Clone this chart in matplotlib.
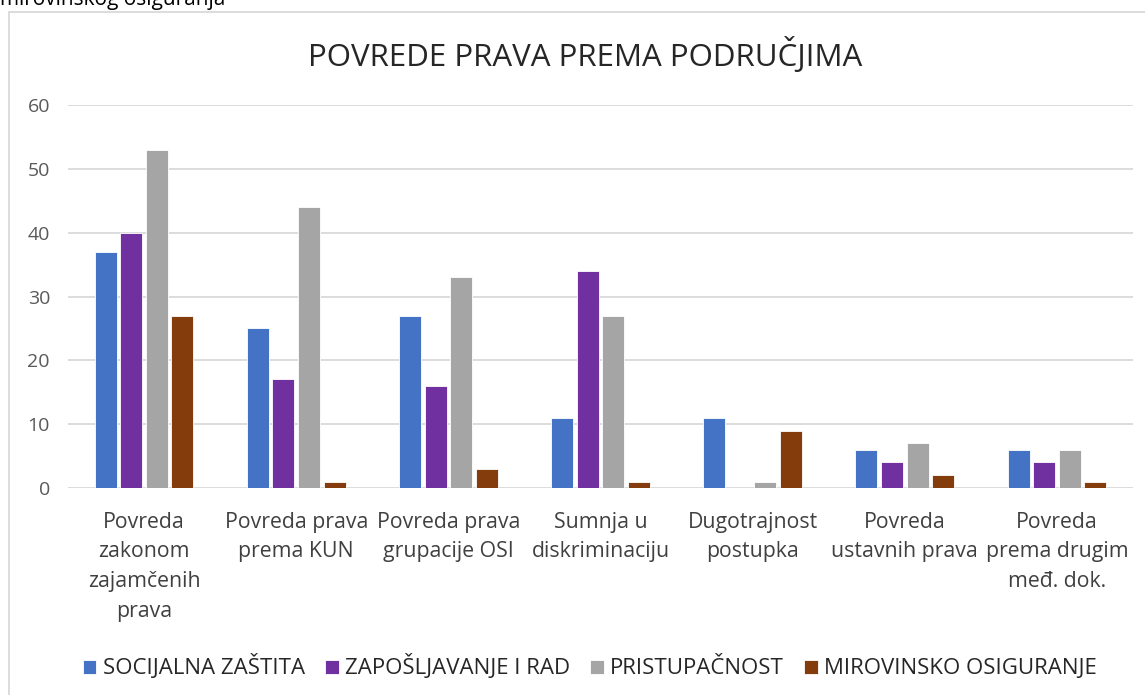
import matplotlib
matplotlib.use("Agg")
import matplotlib.pyplot as plt
import numpy as np
from matplotlib.patches import Rectangle

categories = ["Povreda\nzakonom\nzajamčenih\nprava", "Povreda prava\nprema KUN",
              "Povreda prava\ngrupacije OSI", "Sumnja u\ndiskriminaciju",
              "Dugotrajnost\npostupka", "Povreda\nustavnih prava",
              "Povreda\nprema drugim\nmeđ. dok."]
series_names = ["SOCIJALNA ZAŠTITA", "ZAPOŠLJAVANJE I RAD", "PRISTUPAČNOST", "MIROVINSKO OSIGURANJE"]
socijalna = [37, 25, 27, 11, 11, 6, 6]
zaposljavanje = [40, 17, 16, 34, 0, 4, 4]
pristupacnost = [53, 44, 33, 27, 1, 7, 6]
mirovinsko = [27, 1, 3, 1, 9, 2, 1]
yticks = [0, 10, 20, 30, 40, 50, 60]

colors = ["#4472C4", "#7030A0", "#A5A5A5", "#843C0C"]
plt.rcParams['font.family'] = ['Open Sans', 'DejaVu Sans']

fig = plt.figure(figsize=(11.45, 6.95), dpi=100)
W, H = 1145, 695
ax = fig.add_axes([68 / W, 1 - 488 / H, (1133 - 68) / W, (488 - 105) / H])

x = np.arange(len(categories))
width = 0.145
step = 0.168
data = [socijalna, zaposljavanje, pristupacnost, mirovinsko]
for i, (vals, c, n) in enumerate(zip(data, colors, series_names)):
    ax.bar(x + (i - 1.5) * step, vals, width, color=c, label=n, zorder=3,
           edgecolor='white', linewidth=0.6)

ax.set_xlim(-0.5, len(categories) - 0.5)
ax.set_ylim(0, 60)
ax.set_yticks(yticks)
ax.yaxis.grid(True, color="#D9D9D9", linewidth=1.3, zorder=0)
for s in ax.spines.values():
    s.set_visible(False)
ax.tick_params(axis='both', length=0, labelsize=14, colors="#595959")
ax.tick_params(axis='y', pad=13)
ax.set_xticks(x)
ax.set_xticklabels(categories, fontsize=15.3, color="#404040", linespacing=1.55)
ax.tick_params(axis='x', pad=17)

fig.text(585 / W, 1 - 55 / H, "POVREDE PRAVA PREMA PODRUČJIMA", ha='center', va='center',
         fontsize=22.5, color="#262626")

leg = fig.legend(loc='center', bbox_to_anchor=(590 / W, 1 - 667 / H), ncol=4, frameon=False,
                 fontsize=16, handlelength=0.6, handleheight=0.6, handletextpad=0.3,
                 columnspacing=0.9)
for t in leg.get_texts():
    t.set_color("#262626")

fig.patches.append(Rectangle((9 / W, -0.1), 1.2, 1 - 12 / H + 0.1, transform=fig.transFigure,
                             fill=False, edgecolor="#D9D9D9", linewidth=1.3))
fig.text(0, 1.0, "mirovinskog osiguranja", ha='left', va='center', fontsize=15, color="#000000")

fig.savefig("out.png", dpi=100)
